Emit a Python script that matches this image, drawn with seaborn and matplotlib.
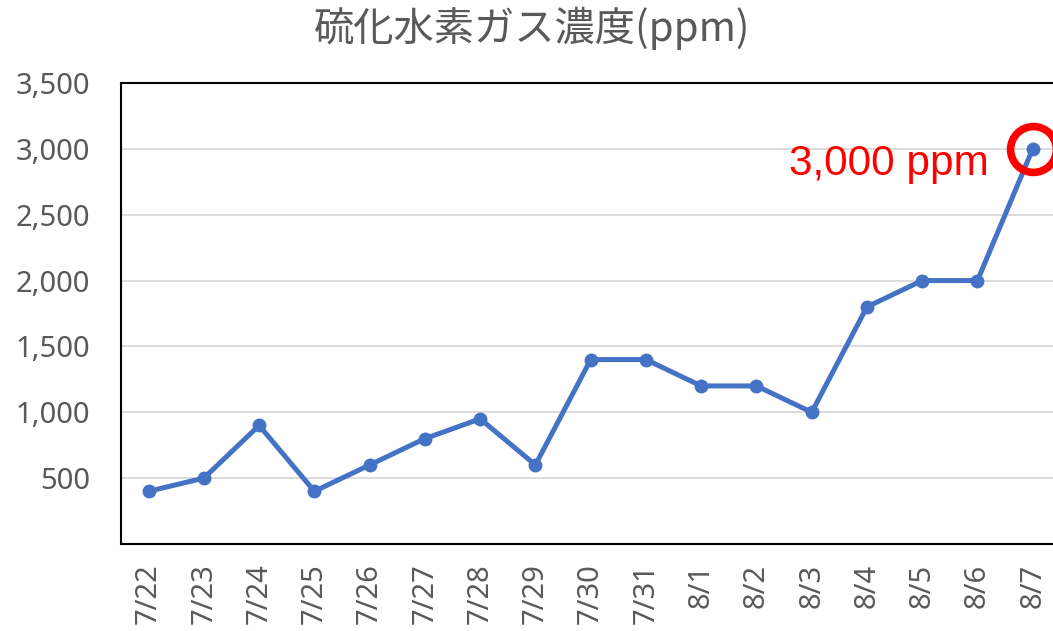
import pandas as pd
import numpy as np
import matplotlib
matplotlib.use('Agg')
import matplotlib.pyplot as plt
import seaborn as sns

# データ
dates = ['7/22', '7/23', '7/24', '7/25', '7/26', '7/27', '7/28', '7/29', '7/30',
         '7/31', '8/1', '8/2', '8/3', '8/4', '8/5', '8/6', '8/7']
ppm = [400, 500, 900, 400, 600, 800, 950, 600, 1400,
       1400, 1200, 1200, 1000, 1800, 2000, 2000, 3000]
y_ticks = [500, 1000, 1500, 2000, 2500, 3000, 3500]

df = pd.DataFrame({'date': dates, 'ppm': ppm})

sns.set_style('white')
plt.rcParams['font.family'] = ['Noto Sans', 'Noto Sans CJK JP', 'DejaVu Sans']

gray = '#595959'
blue = '#4472C4'

fig = plt.figure(figsize=(10.53, 6.31), dpi=100)
ax = fig.add_axes([0.1149, 0.1379, 0.8921, 0.7306])

sns.lineplot(data=df, x='date', y='ppm', ax=ax, sort=False, color=blue,
             linewidth=3.6, marker='o', markersize=10, markeredgewidth=0,
             zorder=3)

# 最大値を赤丸で強調
ax.plot(dates[-1], ppm[-1], marker='o', markersize=33, markerfacecolor='none',
        markeredgecolor='#FF0000', markeredgewidth=5.5, zorder=4, clip_on=False)
ax.annotate(f'{ppm[-1]:,} ppm', xy=(len(dates) - 1, ppm[-1]),
            xytext=(-32, -11), textcoords='offset points', ha='right', va='center',
            color='#FF0000', fontsize=30.5, family=['Liberation Sans', 'DejaVu Sans'])

ax.set_xlim(-0.5, len(dates) - 0.5)
ax.set_ylim(0, 3500)
ax.set_yticks(y_ticks)
ax.set_yticklabels([f'{v:,}' for v in y_ticks])
ax.yaxis.grid(True, color='#D9D9D9', linewidth=1.3)
ax.set_axisbelow(True)
ax.set_xlabel('')
ax.set_ylabel('')

ax.tick_params(axis='both', length=0, labelcolor=gray, labelsize=21)
ax.tick_params(axis='y', pad=22)
ax.tick_params(axis='x', pad=14)
plt.setp(ax.get_xticklabels(), rotation=90)

for side in ['left', 'top', 'bottom']:
    ax.spines[side].set_color('black')
    ax.spines[side].set_linewidth(1.5)
ax.spines['right'].set_visible(False)

fig.suptitle('硫化水素ガス濃度(ppm)', x=0.505, y=0.99, color=gray, fontsize=29,
             family=['Noto Sans CJK JP', 'DejaVu Sans'])

fig.savefig('out.png', dpi=100)
